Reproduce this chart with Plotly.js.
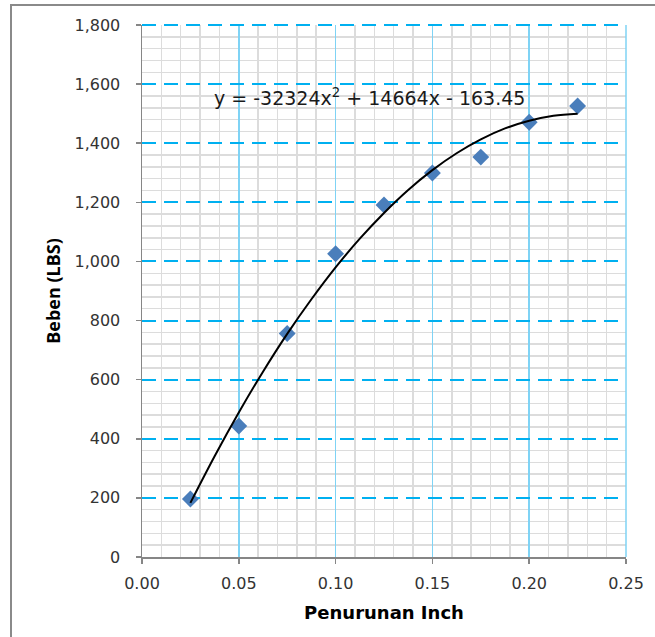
<!DOCTYPE html>
<html>
<head>
<meta charset="utf-8">
<script src="https://cdn.plot.ly/plotly-3.0.1.min.js"></script>
<style>
  html, body { margin: 0; padding: 0; background: #ffffff; }
  #wrap { position: relative; width: 655px; height: 637px; overflow: hidden; }
  #chart { position: absolute; left: 0; top: 0; width: 655px; height: 637px; }
  #frame { position: absolute; left: 10px; top: 4px; width: 700px; height: 700px;
           border-top: 2px solid #8a8a8a; border-left: 2px solid #8a8a8a; pointer-events: none; }
</style>
</head>
<body>
<div id="wrap">
  <div id="chart"></div>
  <div id="frame"></div>
</div>
<script>
// Measured data (settlement in inch vs load in LBS)
const settlementInch = [0.025, 0.05, 0.075, 0.1, 0.125, 0.15, 0.175, 0.2, 0.225];
const loadLbs = [196, 443, 756, 1026, 1191, 1299, 1353, 1471, 1526];

// Polynomial trendline as drawn in the picture
const trendX = [0.025, 0.0375, 0.05, 0.0625, 0.075, 0.0875, 0.1, 0.1125, 0.125,
                0.1375, 0.15, 0.1625, 0.175, 0.1875, 0.2, 0.2125, 0.225];
const trendY = [183, 341, 489, 627, 755, 872, 980, 1077, 1164,
                1242, 1309, 1366, 1413, 1450, 1476, 1493, 1500];

const xRange = [0, 0.25];
const yRange = [0, 1800];

const equationText = 'y = -32324x<sup>2</sup> + 14664x - 163.45';
const xTitle = 'Penurunan Inch';
const yTitle = 'Beben (LBS)';

const traces = [
  {
    x: settlementInch, y: loadLbs, type: 'scatter', mode: 'markers',
    marker: { symbol: 'diamond', size: 13, color: '#4a7ebb', line: { width: 0 } },
    hoverinfo: 'skip'
  },
  {
    x: trendX, y: trendY, type: 'scatter', mode: 'lines',
    line: { color: '#000000', width: 2, shape: 'spline', smoothing: 1 },
    hoverinfo: 'skip'
  }
];

const layout = {
  width: 655, height: 637,
  margin: { l: 142, r: 29, t: 25, b: 80, pad: 0 },
  paper_bgcolor: '#ffffff', plot_bgcolor: '#ffffff',
  showlegend: false,
  font: { family: 'DejaVu Sans, Verdana, sans-serif', color: '#333333', size: 16 },
  xaxis: {
    range: xRange, dtick: 0.05, tick0: 0, tickformat: '.2f',
    showline: true, linecolor: '#868686', linewidth: 1.5,
    ticks: 'outside', ticklen: 5, tickcolor: '#868686', tickwidth: 1.5,
    ticklabelstandoff: 6,
    showgrid: true, gridcolor: '#7fd3f5', gridwidth: 1.5, griddash: 'solid',
    minor: { dtick: 0.01, showgrid: true, gridcolor: '#dcdcdc', gridwidth: 1.5, griddash: 'solid' },
    zeroline: false,
    title: { text: xTitle, standoff: 14,
             font: { family: 'DejaVu Sans, Verdana, sans-serif', size: 18, weight: 'bold', color: '#000000' } },
    tickfont: { size: 16, color: '#333333' }
  },
  yaxis: {
    range: yRange, dtick: 200, tick0: 0, tickformat: ',d',
    showline: true, linecolor: '#868686', linewidth: 1.5,
    ticks: 'outside', ticklen: 5, tickcolor: '#868686', tickwidth: 1.5,
    ticklabelstandoff: 12,
    showgrid: true, gridcolor: '#00b0f0', gridwidth: 2, griddash: '14px,8px',
    minor: { dtick: 40, showgrid: true, gridcolor: '#dcdcdc', gridwidth: 1.5, griddash: 'solid' },
    zeroline: false,
    title: { text: yTitle, standoff: 9,
             font: { family: 'Open Sans, Noto Sans, sans-serif', size: 18, weight: 'bold', color: '#000000' } },
    tickfont: { size: 16, color: '#333333' }
  },
  // Grid lines along the top and right edges of the plot area
  shapes: [
    { type: 'line', xref: 'paper', yref: 'paper', layer: 'above',
      x0: 0, x1: 1, y0: 1, y1: 1,
      line: { color: '#00b0f0', width: 2, dash: '14px,8px' } },
    { type: 'line', xref: 'paper', yref: 'paper', layer: 'above',
      x0: 1, x1: 1, y0: 0, y1: 1,
      line: { color: '#7fd3f5', width: 1.5 } }
  ],
  annotations: [
    {
      x: 0.1175, y: 1558, xref: 'x', yref: 'y', text: equationText,
      showarrow: false, xanchor: 'center', yanchor: 'middle',
      font: { family: 'DejaVu Sans, Verdana, sans-serif', size: 19, color: '#1a1a1a' }
    }
  ]
};

Plotly.newPlot('chart', traces, layout, { staticPlot: true, displayModeBar: false });
</script>
</body>
</html>
